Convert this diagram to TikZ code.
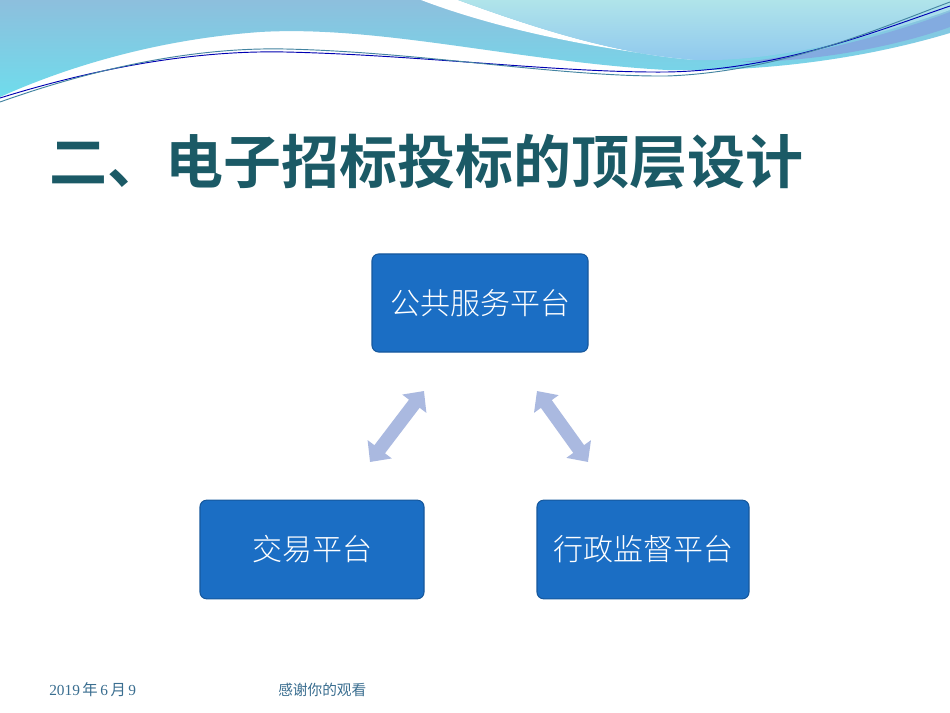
\documentclass[tikz,border=0pt]{standalone}
\usepackage{fontspec}
\setmainfont{Liberation Serif}
\newfontfamily\cjk{Noto Sans CJK SC}
\newfontfamily\cjkl{Noto Sans CJK SC Light}
\newfontfamily\cjkb{Noto Sans CJK SC Bold}
\usetikzlibrary{arrows.meta}
\definecolor{boxblue}{HTML}{1B6EC4}
\definecolor{arrowc}{HTML}{AAB9E0}
\definecolor{titlec}{HTML}{1B5A66}
\definecolor{footc}{HTML}{3A6E90}
\definecolor{wtop}{HTML}{8DBFDD}
\definecolor{wbot}{HTML}{6FDCEC}
\definecolor{ltop}{HTML}{B0E4EA}
\definecolor{lbot}{HTML}{8FC8EE}
\begin{document}
\begin{tikzpicture}[x=0.75pt,y=-0.75pt,
  box/.style={draw=boxblue!80!black,line width=0.8pt,fill=boxblue,rounded corners=5pt,text=white,font=\cjkl\fontsize{22.5}{26}\selectfont,inner sep=0pt},
  dbl/.style={draw=arrowc,line width=10pt,{Triangle[width=22pt,length=12pt]}-{Triangle[width=22pt,length=12pt]}}]
\useasboundingbox (0,0) rectangle (950,713);
\fill[white] (0,0) rectangle (950,713);
% waves
\shade[top color=wtop, bottom color=wbot]
  (0,0) -- (950,0) -- (950,33) .. controls (860,60) and (760,72) .. (667,70)
  .. controls (520,62) and (380,25) .. (260,32) .. controls (150,40) and (60,70) .. (0,97) -- cycle;
\fill[white] (421,0) -- (458,0) .. controls (540,30) and (620,55) .. (697,60) .. controls (600,50) and (500,30) .. (421,0) -- cycle;
\shade[top color=ltop, bottom color=lbot]
  (458,0) -- (950,0) -- (950,10) .. controls (880,35) and (780,62) .. (697,60) .. controls (620,55) and (540,30) .. (458,0) -- cycle;
\fill[cyan!55!blue!50!white] (950,12) .. controls (880,38) and (800,57) .. (740,62) .. controls (820,62) and (900,45) .. (950,27) -- cycle;
\draw[blue!70!black,line width=0.7pt] (0,98) .. controls (90,70) and (190,50) .. (285,52) .. controls (420,55) and (560,73) .. (667,72) .. controls (780,70) and (880,30) .. (950,6);
\draw[cyan!60!black,line width=0.7pt] (0,102) .. controls (90,70) and (190,47) .. (285,49) .. controls (420,52) and (560,77) .. (667,76) .. controls (780,72) and (880,28) .. (950,2);
% title
\node[anchor=west,text=titlec,font=\cjkb\fontsize{43.5}{48}\selectfont,inner sep=0pt] (title) at (49,162) {二、电子招标投标的顶层设计};
% boxes
\node[box,minimum width=162pt,minimum height=73.5pt] (pub) at (480,303) {公共服务平台};
\node[box,minimum width=168pt,minimum height=74pt] (jy) at (312,549.5) {交易平台};
\node[box,minimum width=159pt,minimum height=74pt] (xz) at (643,549.5) {行政监督平台};
\coordinate (a1) at (370,462); \coordinate (a2) at (424,391);
\coordinate (b1) at (537,391); \coordinate (b2) at (588,462);
\draw[dbl] (a1) -- (a2);
\draw[dbl] (b1) -- (b2);
% footer
\node[anchor=west,text=footc,font=\fontsize{11.5}{13}\selectfont,inner sep=0pt] (date) at (49,690) {2019\,{\cjk 年}\,6\,{\cjk 月}\,9};
\node[anchor=west,text=footc,font=\cjk\fontsize{11}{13}\selectfont,inner sep=0pt] (thanks) at (278,690) {感谢你的观看};
\end{tikzpicture}
\end{document}
